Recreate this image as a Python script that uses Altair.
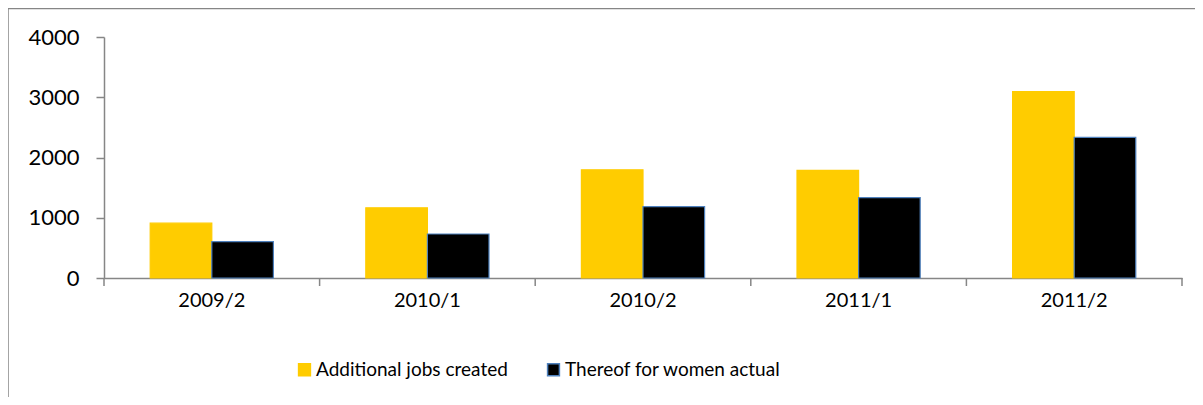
import altair as alt
import pandas as pd

categories = ["2009/2", "2010/1", "2010/2", "2011/1", "2011/2"]
additional_jobs = [910, 1165, 1795, 1785, 3095]
women_jobs = [605, 730, 1185, 1335, 2335]
series_names = ["Additional jobs created", "Thereof for women actual"]
y_ticks = [0, 1000, 2000, 3000, 4000]

rows = []
for c, a, w in zip(categories, additional_jobs, women_jobs):
    rows.append({"period": c, "series": series_names[0], "value": a})
    rows.append({"period": c, "series": series_names[1], "value": w})
df = pd.DataFrame(rows)

W = 1078
H = 241
FONT = "Lato"
AXIS_COLOR = "#868686"
FS = 20

x_scale = alt.Scale(domain=categories, paddingInner=0, paddingOuter=0)
x_axis = alt.Axis(title=None, ticks=False, domain=True, domainColor=AXIS_COLOR,
                  domainWidth=1.5, labelAngle=0, labelFont=FONT, labelFontSize=FS,
                  labelColor="black", labelPadding=12)

border = alt.Chart(pd.DataFrame({"a": [0]})).mark_rect(
    fillOpacity=0, stroke=AXIS_COLOR, strokeWidth=1.5
).encode(
    x=alt.value(-96), x2=alt.value(W + 200),
    y=alt.value(-28.5), y2=alt.value(H + 300),
)

legend_def = alt.Legend(
    title=None, orient="none", legendX=191, legendY=323, direction="horizontal",
    symbolType="square", symbolSize=140, symbolStrokeWidth=1.5,
    labelFont=FONT, labelFontSize=19, labelColor="black", labelLimit=400,
    labelOffset=2, columnPadding=36, padding=0,
)

bars = alt.Chart(df).mark_bar(strokeWidth=1.2).encode(
    x=alt.X("period:N", scale=x_scale, sort=categories, axis=x_axis),
    xOffset=alt.XOffset("series:N", sort=series_names,
                        scale=alt.Scale(domain=series_names, paddingInner=0, paddingOuter=0.75)),
    y=alt.Y("value:Q", scale=alt.Scale(domain=[0, 4000], nice=False),
            axis=alt.Axis(title=None, values=y_ticks, format="d", grid=False, domainColor=AXIS_COLOR,
                          domainWidth=1.5, tickColor=AXIS_COLOR, tickWidth=1.5, tickSize=8,
                          labelFont=FONT, labelFontSize=22, labelColor="black",
                          labelPadding=17)),
    color=alt.Color("series:N", scale=alt.Scale(domain=series_names, range=["#FFCC00", "#000000"]),
                    legend=legend_def),
    stroke=alt.Stroke("series:N", scale=alt.Scale(domain=series_names, range=["#FFCC00", "#4F81BD"]),
                      legend=legend_def),
)

tick_df = pd.DataFrame({"period": categories})
ticks = alt.Chart(tick_df).mark_rule(color=AXIS_COLOR, strokeWidth=1.5).encode(
    x=alt.X("period:N", scale=x_scale, sort=categories, bandPosition=0, axis=x_axis),
    y=alt.value(H), y2=alt.value(H + 8),
)
end_tick = alt.Chart(pd.DataFrame({"a": [0]})).mark_rule(color=AXIS_COLOR, strokeWidth=1.5).encode(
    x=alt.value(W), y=alt.value(H), y2=alt.value(H + 8),
)

chart = alt.layer(border, bars, ticks, end_tick).properties(
    width=W, height=H,
    padding={"left": 96, "top": 29, "right": 13, "bottom": 119},
    autosize=alt.AutoSizeParams(type="none"),
    background="white",
).configure_view(strokeWidth=0)

chart.save("out.html", embed_options={"renderer": "svg", "actions": False})
